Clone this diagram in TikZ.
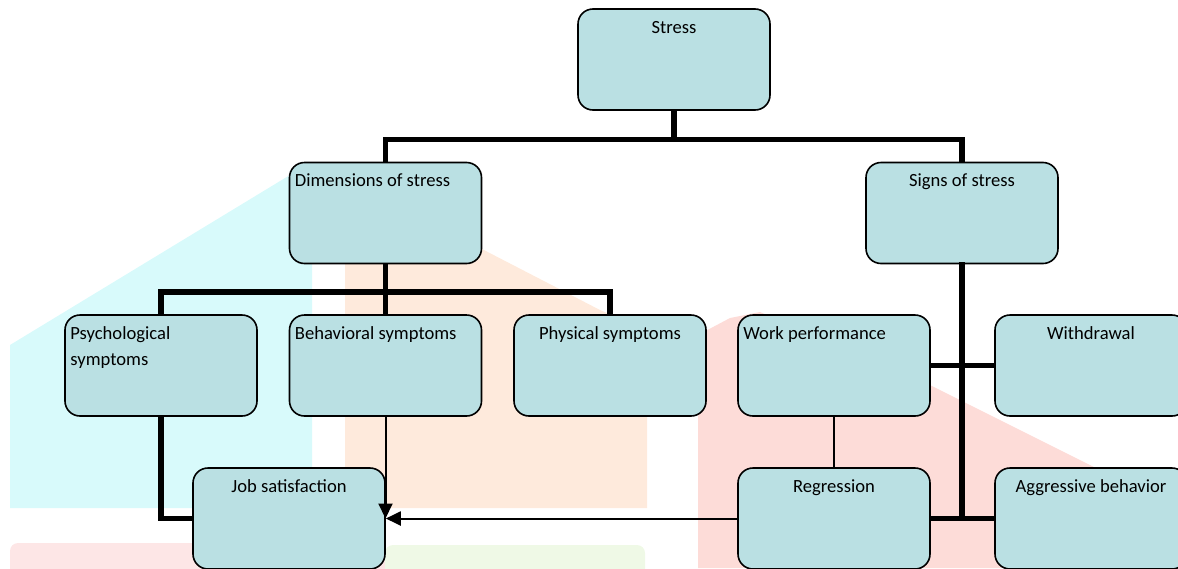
\documentclass[tikz,border=0pt]{standalone}
\usepackage{fontspec}
\setmainfont{Carlito}
\usetikzlibrary{arrows.meta}
\definecolor{boxfill}{HTML}{BAE0E3}
\definecolor{wmcyan}{HTML}{D8FAFB}
\definecolor{wmpeach}{HTML}{FEEADC}
\definecolor{wmpink}{HTML}{FDDCD8}
\definecolor{wmpinkb}{HTML}{FDE6E6}
\definecolor{wmgreen}{HTML}{EFF9E6}
\begin{document}
\begin{tikzpicture}[x=1pt,y=-1pt,
  box/.style={draw=black,line width=1.6pt,fill=boxfill,rounded corners=15pt,
    minimum width=192pt,minimum height=101pt,inner sep=0pt},
  txt/.style={inner sep=0pt,font=\fontsize{18.6}{26}\selectfont,align=left},
  thickline/.style={line width=5.5pt},
  thinline/.style={line width=2pt},
  tip/.style={-{Triangle[length=15pt,width=14pt]}}
]
\useasboundingbox (0,0) rectangle (1178,568);
\clip (0,0) rectangle (1178,568);
% faint watermark behind
\fill[wmcyan] (10,345) -- (290,175) -- (312,175) -- (312,508) -- (10,508) -- cycle;
\fill[wmpeach] (345,250) -- (480,248) -- (600,310) -- (647,330) -- (647,508) -- (345,508) -- cycle;
\fill[wmpink] (698,568) -- (698,335) -- (730,318) -- (760,312) -- (930,385) -- (1150,495) -- (1150,568) -- cycle;
\fill[wmpinkb, rounded corners=8pt] (10,543) rectangle (385,580);
\fill[wmgreen, rounded corners=8pt] (385,545) rectangle (645,580);

% boxes
\node[box] (stress) at (674,59.5) {};
\node[box] (dim) at (385.5,213) {};
\node[box] (sig) at (962,213) {};
\node[box] (psy) at (161,365.5) {};
\node[box] (beh) at (385.5,365.5) {};
\node[box] (phy) at (610,365.5) {};
\node[box] (work) at (834,365.5) {};
\node[box] (with) at (1091,365.5) {};
\node[box] (job) at (289,518.5) {};
\node[box] (reg) at (834,518.5) {};
\node[box] (agg) at (1091,518.5) {};

% texts
\node[txt,anchor=north] (stress-t) at ([yshift=-13pt]stress.north) {Stress};
\node[txt,anchor=north west] (dim-t) at ([xshift=6pt,yshift=-12pt]dim.north west) {Dimensions of stress};
\node[txt,anchor=north] (sig-t) at ([yshift=-12pt]sig.north) {Signs of stress};
\node[txt,anchor=north west] (psy-t) at ([xshift=6pt,yshift=-12pt]psy.north west) {Psychological\\symptoms};
\node[txt,anchor=north west] (beh-t) at ([xshift=6pt,yshift=-12pt]beh.north west) {Behavioral symptoms};
\node[txt,anchor=north] (phy-t) at ([yshift=-12pt]phy.north) {Physical symptoms};
\node[txt,anchor=north west] (work-t) at ([xshift=6pt,yshift=-12pt]work.north west) {Work performance};
\node[txt,anchor=north] (with-t) at ([yshift=-12pt]with.north) {Withdrawal};
\node[txt,anchor=north] (job-t) at ([yshift=-12pt]job.north) {Job satisfaction};
\node[txt,anchor=north] (reg-t) at ([yshift=-12pt]reg.north) {Regression};
\node[txt,anchor=north] (agg-t) at ([yshift=-12pt]agg.north) {Aggressive behavior};

% connectors
\draw[thickline] (stress.south) -- (stress.south |- 0,140);
\draw[thickline] (dim.north) -- ++(0,-22) -| (sig.north);
\draw[thickline] (dim.south) -- (beh.north);
\draw[thickline] (psy.north) -- ++(0,-22) -| (phy.north);
\draw[thickline] (psy.south) |- (job.west);
\draw[thickline,line cap=rect] (sig.south) -- (sig.south |- agg.west);
\draw[thickline] (work.east) -- (with.west);
\draw[thickline] (reg.east) -- (agg.west);
\draw[thinline] (work.south) -- (reg.north);
\draw[thinline,tip] (beh.south) -- (beh.south |- job.east);
\draw[thinline,tip] (reg.west) -- (job.east);
\end{tikzpicture}
\end{document}
